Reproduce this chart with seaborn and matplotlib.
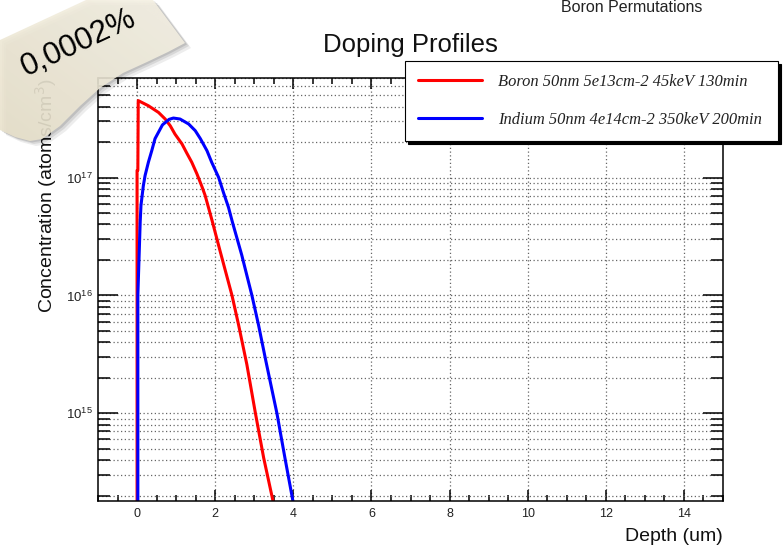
import numpy as np
import matplotlib
matplotlib.use("Agg")
import matplotlib.pyplot as plt
import seaborn as sns
from matplotlib.ticker import LogLocator, MultipleLocator, FuncFormatter, NullFormatter
from matplotlib.patches import Polygon

# ---- profile data (depth in um, concentration in atoms/cm^3) ----
depth_boron = [0.0, 0.0, 0.02, 0.03, 0.29, 0.55, 0.72, 0.85, 0.97, 1.15, 1.27,
               1.40, 1.53, 1.66, 1.74, 1.85, 1.93, 2.13, 2.43, 2.60, 2.81, 3.03,
               3.24, 3.48]
conc_boron = [1e14, 1.15e17, 1.15e17, 4.5e17, 4.07e17, 3.57e17, 3.14e17, 2.75e17,
              2.34e17, 1.93e17, 1.62e17, 1.35e17, 1.08e17, 8.4e16, 7.1e16, 5.25e16,
              4.2e16, 2.35e16, 1.0e16, 5.6e15, 2.6e15, 1.0e15, 4.2e14, 1.8e14]

depth_indium = [0.02, 0.02, 0.06, 0.08, 0.10, 0.16, 0.205, 0.29, 0.376, 0.46, 0.65,
                0.82, 0.93, 1.10, 1.32, 1.49, 1.62, 1.79, 1.91, 2.09, 2.21, 2.34,
                2.44, 2.68, 2.94, 3.11, 3.30, 3.58, 3.79, 3.99]
conc_indium = [1e14, 1.0e16, 2.6e16, 4.2e16, 5.8e16, 8.5e16, 1.04e17, 1.35e17,
               1.69e17, 2.14e17, 2.8e17, 3.12e17, 3.2e17, 3.14e17, 2.85e17, 2.5e17,
               2.14e17, 1.69e17, 1.35e17, 1.0e17, 7.5e16, 5.6e16, 4.2e16, 2.2e16,
               1.0e16, 5.6e15, 2.75e15, 1.0e15, 4.1e14, 1.8e14]

series_labels = ["Boron 50nm 5e13cm-2 45keV 130min",
                 "Indium 50nm 4e14cm-2 350keV 200min"]
series_colors = ["#ff0000", "#0000ff"]

title = "Doping Profiles"
corner_note = "Boron Permutations"
x_label = "Depth (um)"
y_label = "Concentration (atoms/cm$^{3}$)"
sticker_text = "0,0002%"

sns.set_style("ticks")
plt.rcParams["font.family"] = ["Liberation Sans", "DejaVu Sans"]

W, H = 784, 549
fig = plt.figure(figsize=(W / 100, H / 100), dpi=100)
fig.patch.set_facecolor("white")


def fx(px):
    return px / W


def fy(py):
    return 1 - py / H


ax = fig.add_axes([fx(98), fy(501), fx(723) - fx(98), fy(78) - fy(501)])

sns.lineplot(x=depth_boron, y=conc_boron, ax=ax, color=series_colors[0], lw=2.2,
             estimator=None, sort=False, label=series_labels[0])
sns.lineplot(x=depth_indium, y=conc_indium, ax=ax, color=series_colors[1], lw=2.2,
             estimator=None, sort=False, label=series_labels[1])

ax.set_yscale("log")
ax.set_xlim(-1, 15)
ax.set_ylim(1.8e14, 7e17)

ax.xaxis.set_major_locator(MultipleLocator(2))
ax.xaxis.set_minor_locator(MultipleLocator(0.5))
ax.yaxis.set_major_locator(LogLocator(base=10))
ax.yaxis.set_minor_locator(LogLocator(base=10, subs=np.arange(2, 10)))
ax.yaxis.set_minor_formatter(NullFormatter())
ax.yaxis.set_major_formatter(
    FuncFormatter(lambda v, _: r"$\mathregular{10^{%d}}$" % round(np.log10(v))))

grid_kw = dict(color="#666666", linestyle=(0, (1, 2)), linewidth=0.9)
ax.grid(True, which="major", axis="x", **grid_kw)
ax.grid(True, which="both", axis="y", **grid_kw)
ax.set_axisbelow(True)

for s in ax.spines.values():
    s.set_linewidth(1.1)
    s.set_color("black")

ax.tick_params(which="both", direction="in", top=True, right=True, width=1.1,
               color="black", labelcolor="#222222")
ax.tick_params(axis="x", which="major", length=8, pad=5, labelsize=9)
ax.tick_params(axis="x", which="minor", length=4.3)
ax.tick_params(axis="y", which="major", length=14.4, pad=4, labelsize=9.5)
ax.tick_params(axis="y", which="minor", length=8.6)

ax.set_title(title, fontsize=18.5, pad=19, color="#111111")
ax.set_xlabel(x_label, loc="right", fontsize=14, labelpad=6, color="#111111")
ax.set_ylabel(y_label, loc="top", fontsize=14, labelpad=5, color="#111111")

leg = ax.legend(loc="upper left",
                bbox_to_anchor=(fx(405), fy(141), fx(778) - fx(405), fy(61) - fy(141)),
                bbox_transform=fig.transFigure, mode="expand", borderaxespad=0,
                frameon=True, fancybox=False, edgecolor="black", framealpha=1,
                shadow={"color": "black", "alpha": 1},
                prop={"family": "Liberation Serif", "style": "italic", "size": 11.9},
                handlelength=3.85, handletextpad=0.97, labelspacing=1.33, borderpad=0.8)
leg.get_frame().set_linewidth(0.8)
for t in leg.get_texts():
    t.set_color("#222222")

fig.text(fx(632), fy(12), corner_note, ha="center", va="baseline", fontsize=11.5,
         color="#222222")

# ---- paper note pinned in the upper-left corner ----
ov = fig.add_axes([0, 0, 1, 1], zorder=10)
ov.set_xlim(0, W)
ov.set_ylim(H, 0)
ov.axis("off")
ov.patch.set_alpha(0)

note_outline = [(0, 40), (86, 0), (153, 0), (185, 43), (168, 52), (147, 62),
                (123, 73), (100, 88), (80, 106), (60, 126), (42, 139), (30, 141),
                (15, 137), (0, 130)]

for dx, dy, a in [(6, 5, 0.07), (4, 3, 0.09), (2, 1.5, 0.11)]:
    ov.add_patch(Polygon([(x + dx, y + dy) for x, y in note_outline], closed=True,
                         facecolor="black", edgecolor="none", alpha=a))

paper = Polygon(note_outline, closed=True, facecolor="none", edgecolor="none")
ov.add_patch(paper)
gx, gy = np.meshgrid(np.linspace(0, 1, 200), np.linspace(0, 1, 150))
shade = np.clip(0.5 * gx + 0.5 * (1 - gy) + 0.15, 0, 1)
c_dark = np.array([230, 222, 198]) / 255
c_light = np.array([244, 240, 226]) / 255
rgb = c_dark[None, None, :] * (1 - shade[..., None]) + c_light[None, None, :] * shade[..., None]
img = ov.imshow(rgb, extent=(0, 190, 145, 0), alpha=0.9, zorder=2,
                interpolation="bilinear")
img.set_clip_path(paper)
ov.set_xlim(0, W)
ov.set_ylim(H, 0)

ov.text(79, 43, sticker_text, rotation=25, rotation_mode="anchor", ha="center",
        va="center", fontsize=22.5, color="black", zorder=3)

fig.savefig("out.png", dpi=100)
